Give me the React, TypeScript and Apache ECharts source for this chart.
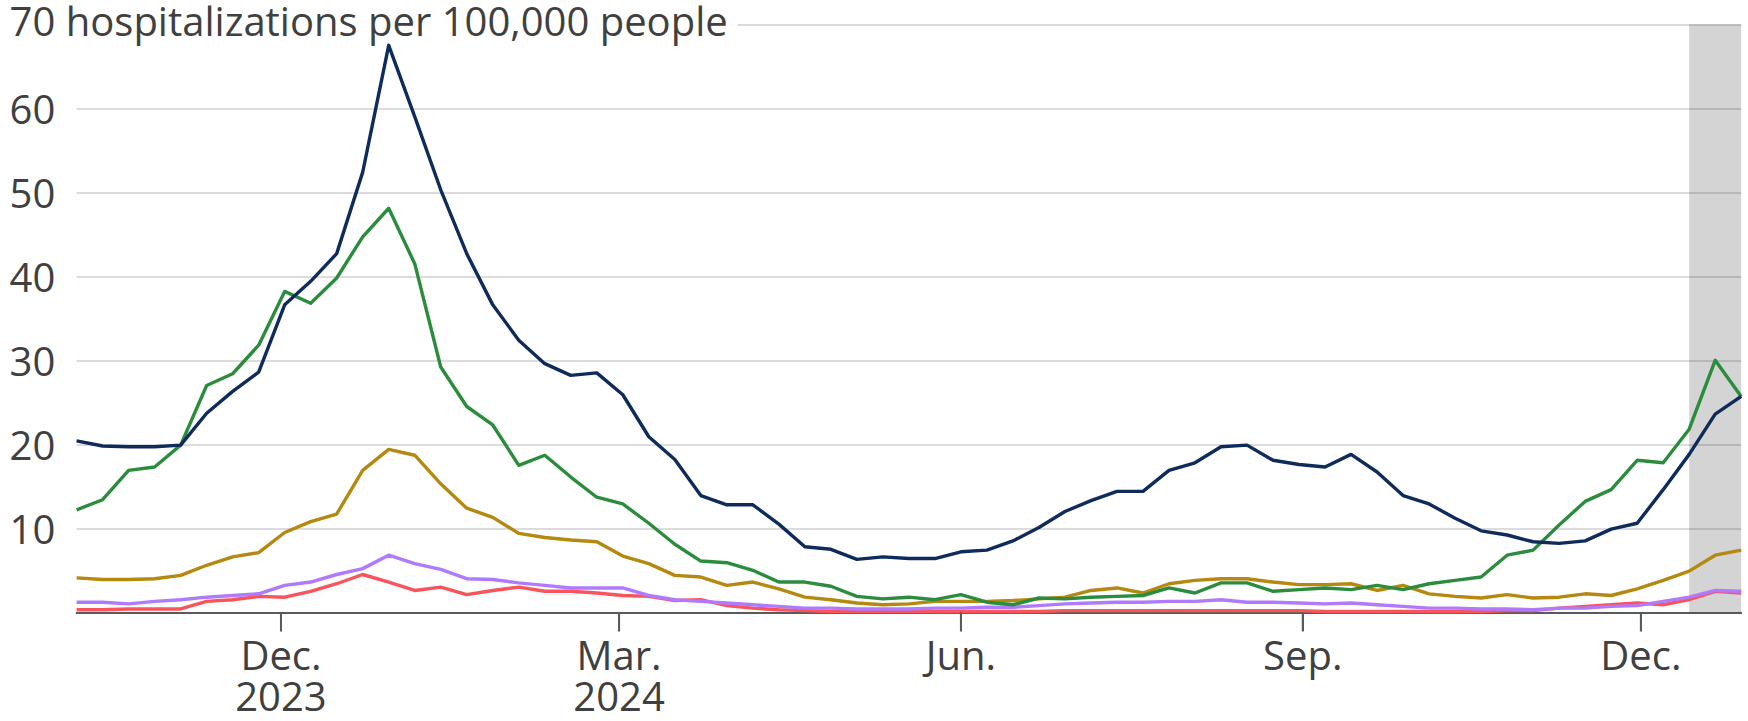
import React, { useEffect, useRef } from "react";
import * as echarts from "echarts";

// Weekly points, week ending Saturday, from 2023-10-07 to 2024-12-28
const weekEnding: number[] = Array.from({ length: 65 }, (_, k) => new Date(2023, 9, 7 + 7 * k).getTime());
// Daily slots spanning the same range (for quarter tick marks)
const daySlots: string[] = Array.from({ length: 449 }, (_, d) => String(new Date(2023, 9, 7 + d).getTime()));

const navy = [
  20.4, 19.8, 19.7, 19.7, 19.9, 23.7, 26.3, 28.6, 36.6, 39.4, 42.7, 52.4, 67.5, 59.0, 50.3, 42.7,
  36.6, 32.4, 29.6, 28.2, 28.5, 25.9, 20.9, 18.2, 13.9, 12.8, 12.8, 10.5, 7.8, 7.5, 6.3, 6.6,
  6.4, 6.4, 7.2, 7.4, 8.5, 10.1, 12.0, 13.3, 14.4, 14.4, 16.9, 17.8, 19.7, 19.9, 18.1, 17.6,
  17.3, 18.8, 16.7, 13.9, 12.9, 11.2, 9.7, 9.2, 8.4, 8.2, 8.5, 9.9, 10.6, 14.6, 18.8, 23.6, 25.7,
];
const green = [
  12.2, 13.4, 16.9, 17.3, 19.9, 27.0, 28.4, 31.8, 38.2, 36.8, 39.8, 44.7, 48.1, 41.5, 29.2, 24.5,
  22.3, 17.5, 18.7, 16.1, 13.7, 12.9, 10.6, 8.1, 6.1, 5.9, 5.0, 3.6, 3.6, 3.1, 1.9, 1.6,
  1.8, 1.5, 2.1, 1.2, 0.9, 1.7, 1.6, 1.8, 1.9, 2.0, 2.9, 2.3, 3.5, 3.5, 2.5, 2.7,
  2.9, 2.7, 3.2, 2.7, 3.4, 3.8, 4.2, 6.8, 7.4, 10.4, 13.2, 14.6, 18.1, 17.8, 21.8, 30.0, 25.7,
];
const gold = [
  4.1, 3.9, 3.9, 4.0, 4.4, 5.6, 6.6, 7.1, 9.5, 10.8, 11.7, 16.9, 19.4, 18.7, 15.3, 12.4,
  11.3, 9.4, 8.9, 8.6, 8.4, 6.7, 5.8, 4.4, 4.2, 3.2, 3.6, 2.8, 1.8, 1.5, 1.1, 0.9,
  1.0, 1.3, 1.3, 1.3, 1.4, 1.6, 1.8, 2.6, 2.9, 2.3, 3.4, 3.8, 4.0, 4.0, 3.6, 3.3,
  3.3, 3.4, 2.6, 3.2, 2.2, 1.9, 1.7, 2.1, 1.7, 1.8, 2.2, 2.0, 2.8, 3.8, 4.9, 6.8, 7.4,
];
const purple = [
  1.2, 1.2, 1.0, 1.3, 1.5, 1.8, 2.0, 2.2, 3.2, 3.6, 4.5, 5.2, 6.8, 5.8, 5.1, 4.0,
  3.9, 3.5, 3.2, 2.9, 2.9, 2.9, 2.0, 1.5, 1.3, 1.1, 0.9, 0.7, 0.5, 0.5, 0.4, 0.4,
  0.4, 0.5, 0.5, 0.6, 0.6, 0.8, 1.0, 1.1, 1.2, 1.2, 1.3, 1.3, 1.5, 1.2, 1.2, 1.1,
  1.0, 1.1, 0.9, 0.7, 0.5, 0.5, 0.4, 0.4, 0.3, 0.5, 0.5, 0.7, 0.8, 1.3, 1.8, 2.6, 2.5,
];
const red = [
  0.3, 0.3, 0.4, 0.4, 0.4, 1.3, 1.5, 1.9, 1.8, 2.5, 3.4, 4.5, 3.6, 2.6, 3.0, 2.1,
  2.6, 3.0, 2.5, 2.5, 2.3, 2.0, 1.9, 1.4, 1.5, 0.8, 0.5, 0.3, 0.2, 0.1, 0.1, 0.1,
  0.1, 0.1, 0.1, 0.1, 0.1, 0.1, 0.2, 0.2, 0.2, 0.2, 0.2, 0.2, 0.2, 0.2, 0.2, 0.2,
  0.1, 0.1, 0.1, 0.1, 0.1, 0.1, 0.1, 0.2, 0.2, 0.5, 0.7, 0.9, 1.1, 0.9, 1.5, 2.5, 2.3,
];

const tickDates = [
  new Date(2023, 11, 1).getTime(),
  new Date(2024, 2, 1).getTime(),
  new Date(2024, 5, 1).getTime(),
  new Date(2024, 8, 1).getTime(),
  new Date(2024, 11, 1).getTime(),
];
const tickLabels = ["Dec.\n2023", "Mar.\n2024", "Jun.", "Sep.", "Dec."];

const yTitle = "70 hospitalizations per 100,000 people";
const shadeStart = new Date(2024, 11, 14).getTime();
const shadeEnd = new Date(2024, 11, 28).getTime();

const FONT = "'Open Sans', 'Noto Sans', sans-serif";
const TEXT = "#404040";
const AXIS = "#5a5a5a";
const TICK_LEN = 19;

export default function App() {
  const ref = useRef<HTMLDivElement>(null);
  useEffect(() => {
    if (!ref.current) return;
    const chart = echarts.init(ref.current, undefined, { renderer: "svg" });
    const tickSet = new Set(tickDates.map((t) => String(t)));
    const mk = (data: number[], color: string, z: number, withShade = false) => {
      const s: any = {
        type: "line",
        xAxisIndex: 0,
        yAxisIndex: 0,
        data: data.map((v, i) => [weekEnding[i], v]),
        showSymbol: false,
        symbol: "none",
        lineStyle: { color, width: 3.4, join: "round" },
        itemStyle: { color },
        z,
        silent: true,
      };
      if (withShade) {
        s.markArea = {
          silent: true,
          itemStyle: { color: "rgba(0,0,0,0.17)" },
          data: [[{ xAxis: shadeStart }, { xAxis: shadeEnd }]],
        };
      }
      return s;
    };
    chart.setOption({
      animation: false,
      backgroundColor: "#ffffff",
      grid: { left: 76.6, right: 6.8, top: 24.3, bottom: 108.7, containLabel: false },
      xAxis: [
        {
          type: "value",
          position: "bottom",
          min: weekEnding[0],
          max: weekEnding[weekEnding.length - 1],
          splitLine: { show: false },
          axisLine: { show: true, lineStyle: { color: AXIS, width: 2 } },
          axisTick: { show: false },
          axisLabel: {
            customValues: tickDates,
            formatter: (v: number) => {
              const i = tickDates.findIndex((t) => Math.abs(t - v) < 86400000 / 2);
              return i >= 0 ? tickLabels[i] : "";
            },
            color: TEXT,
            fontFamily: FONT,
            fontSize: 40,
            lineHeight: 41,
            margin: 22,
          },
        },
        {
          type: "category",
          position: "bottom",
          offset: 0,
          data: daySlots,
          boundaryGap: false,
          splitLine: { show: false },
          axisLine: { show: false },
          axisLabel: { show: false },
          axisTick: {
            show: true,
            length: TICK_LEN,
            interval: (_idx: number, val: string) => tickSet.has(val),
            lineStyle: { color: AXIS, width: 2 },
          },
        },
      ],
      yAxis: {
        type: "value",
        min: 0,
        max: 70,
        interval: 10,
        axisLine: { show: false },
        axisTick: { show: false },
        splitLine: { show: true, lineStyle: { color: "#dcdcdc", width: 2 } },
        axisLabel: {
          align: "left",
          margin: 67,
          color: TEXT,
          fontFamily: FONT,
          fontSize: 40,
          formatter: (v: number) => (v === 0 ? "" : v === 70 ? "{t|" + yTitle + "}" : String(v)),
          rich: {
            t: {
              color: TEXT,
              fontFamily: FONT,
              fontSize: 40,
              lineHeight: 40,
              backgroundColor: "#ffffff",
              padding: [0, 10, 8, 0],
            },
          },
        },
      },
      series: [
        mk(red, "#f9545b", 3, true),
        mk(purple, "#b07aff", 4),
        mk(gold, "#b5880f", 5),
        mk(green, "#2a8c3c", 6),
        mk(navy, "#0f2b5b", 7),
      ],
    });

    // Backup tick marks placed through the axis scale
    const ticks: any[] = [];
    tickDates.forEach((t) => {
      const p = chart.convertToPixel({ xAxisIndex: 0, yAxisIndex: 0 }, [t, 0]) as number[];
      if (p && isFinite(p[0]) && isFinite(p[1])) {
        ticks.push({
          type: "rect",
          silent: true,
          z: 100,
          shape: { x: p[0] - 1, y: p[1], width: 2, height: TICK_LEN },
          style: { fill: AXIS },
        });
      }
    });
    if (ticks.length) chart.setOption({ graphic: { elements: ticks } });

    return () => chart.dispose();
  }, []);
  return (
    <div
      ref={ref}
      style={{ position: "fixed", left: 0, top: 0, width: 1748, height: 721, background: "#fff" }}
    />
  );
}
